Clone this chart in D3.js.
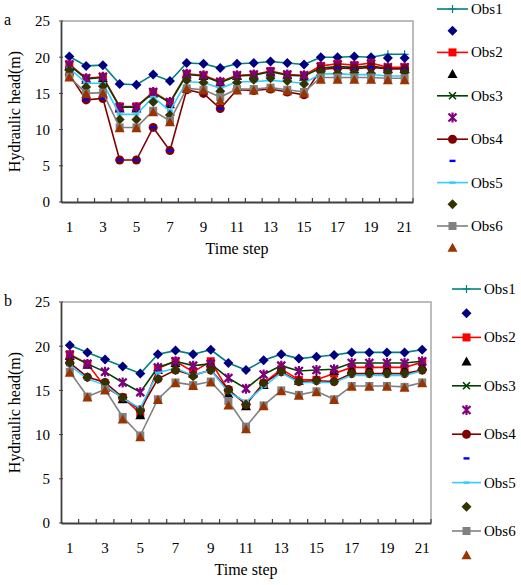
<!DOCTYPE html>
<html>
<head>
<meta charset="utf-8">
<script src="https://cdn.jsdelivr.net/npm/d3@7"></script>
<style>
  body { margin: 0; background: #fff; }
  svg text { font-family: "Liberation Serif", "Times New Roman", serif; fill: #000; }
</style>
</head>
<body>
<svg id="chart" width="521" height="585"></svg>
<script>
const steps = d3.range(1, 22);
const yTicks = [0, 5, 10, 15, 20, 25];
const xLabels = steps.filter(d => d % 2 === 1);
const seriesNames = ["Obs1", "Obs2", "Obs3", "Obs4", "Obs5", "Obs6"];

// chart a -- observed lines
const a_obs1 = [20.1,18.8,18.9,16.3,16.2,17.6,16.7,19.2,19.1,18.5,19.1,19.2,19.4,19.2,19.0,20.0,20.0,20.1,20.0,20.4,20.4];
const a_obs2 = [19.0,17.1,17.3,13.2,13.2,15.2,13.8,17.7,17.5,16.6,17.5,17.6,18.1,17.6,17.5,18.8,19.1,18.9,19.2,18.6,18.6];
const a_obs3 = [18.9,17.0,17.2,13.1,13.1,15.1,13.7,17.6,17.4,16.5,17.4,17.5,18.0,17.5,17.4,18.5,18.7,18.6,18.8,18.4,18.4];
const a_obs4 = [17.6,14.1,14.3,5.8,5.8,10.3,7.1,15.5,15.0,12.9,15.5,15.4,15.6,15.2,14.8,18.3,18.5,18.4,18.6,18.4,18.4];
const a_obs5 = [18.5,16.4,16.4,12.1,12.1,14.5,12.6,16.6,16.5,15.7,16.6,16.6,16.8,16.6,16.4,17.7,17.7,17.6,17.6,17.4,17.4];
const a_obs6 = [17.3,15.0,15.1,10.3,10.3,12.6,11.2,15.7,15.5,14.5,15.6,15.6,15.8,15.5,15.2,17.2,17.2,17.2,17.2,17.1,17.1];
// chart a -- marker-only series
const a_sim1 = [20.1,18.8,18.9,16.3,16.2,17.6,16.7,19.2,19.1,18.5,19.1,19.2,19.4,19.2,19.0,20.0,20.0,20.1,20.0,19.9,19.9];
const a_sim2 = [18.8,16.9,17.1,12.9,12.9,15.0,13.5,17.6,17.4,16.5,17.4,17.5,17.9,17.5,17.3,18.6,18.9,18.7,19.0,18.4,18.4];
const a_sim3 = [19.0,17.1,17.3,13.1,13.1,15.2,13.8,17.7,17.5,16.6,17.5,17.6,18.0,17.6,17.5,18.7,19.0,18.8,19.1,18.6,18.6];
const a_sim4 = [17.6,14.1,14.3,5.8,5.8,10.3,7.1,15.5,15.0,12.9,15.5,15.4,15.6,15.2,14.8,18.3,18.5,18.4,18.6,18.4,18.4];
const a_sim5 = [18.2,15.9,16.0,11.4,11.4,13.8,12.0,16.8,16.5,15.3,16.5,16.9,17.1,16.7,16.3,18.0,17.8,17.9,17.8,17.9,17.9];
const a_sim6 = [17.2,14.9,15.0,10.2,10.2,12.4,11.0,15.6,15.4,14.0,15.4,15.4,15.7,15.3,15.0,16.9,16.9,16.9,16.9,16.8,16.8];

// chart b -- observed lines
const b_obs1 = [20.1,19.3,18.5,17.7,16.9,19.1,19.5,19.1,19.6,18.1,17.3,18.4,19.1,18.6,18.8,19.0,19.3,19.3,19.3,19.3,19.6];
const b_obs2 = [19.1,18.0,15.4,14.2,12.4,17.5,18.3,17.1,18.3,15.0,13.5,15.8,17.4,16.2,16.2,16.9,17.6,17.6,17.6,17.6,18.2];
const b_obs3 = [19.0,18.0,17.1,15.9,14.8,17.6,18.3,17.8,18.0,16.4,15.2,16.8,17.8,17.2,17.3,17.4,18.1,18.1,18.1,18.1,18.3];
const b_obs4 = [18.1,16.5,15.9,14.2,12.8,16.3,17.3,16.7,17.3,15.1,13.4,15.8,17.1,16.0,16.1,16.0,16.9,16.9,16.9,16.9,17.3];
const b_obs5 = [17.8,16.3,15.6,14.1,13.0,17.0,17.5,16.7,17.3,14.8,13.7,15.4,17.0,15.9,15.9,15.9,16.7,16.7,16.7,16.7,17.2];
const b_obs6 = [17.1,14.3,15.1,12.0,9.9,14.0,15.9,15.6,16.0,13.8,10.9,13.3,15.0,14.5,14.9,14.0,15.5,15.5,15.5,15.4,15.9];
// chart b -- marker-only series
const b_sim1 = [20.1,19.3,18.5,17.7,16.9,19.1,19.5,19.1,19.6,18.1,17.3,18.4,19.1,18.6,18.8,19.0,19.3,19.3,19.3,19.3,19.6];
const b_sim2 = [18.9,17.9,15.3,14.0,12.2,17.3,18.1,16.9,18.1,14.6,13.2,15.6,17.3,16.1,16.3,17.2,17.4,17.4,17.4,17.4,17.8];
const b_sim3 = [19.0,18.0,17.1,15.9,14.8,17.6,18.3,17.8,18.0,16.4,15.2,16.8,17.8,17.2,17.3,17.4,18.1,18.1,18.1,18.1,18.3];
const b_sim4 = [18.1,16.5,15.9,14.2,12.8,16.3,17.3,16.7,17.3,15.1,13.4,15.8,17.1,16.0,16.1,16.0,16.9,16.9,16.9,16.9,17.3];
const b_sim5 = [18.1,16.5,15.9,14.2,12.7,16.3,17.3,16.6,17.3,15.0,13.4,15.8,17.1,16.0,16.1,16.0,16.9,16.9,16.9,16.9,17.3];
const b_sim6 = [17.0,14.2,15.0,11.7,9.7,13.9,15.8,15.5,15.9,13.3,10.6,13.2,14.9,14.4,14.8,13.9,15.4,15.4,15.4,15.3,15.8];

// line style + marker for each Obs, then marker for its companion series
const lineStyles = [
  { color: "#008080", marker: "plus",   mcolor: "#008080" },
  { color: "#ff0000", marker: "square", mcolor: "#ff0000" },
  { color: "#004000", marker: "x",      mcolor: "#004000" },
  { color: "#800000", marker: "circle", mcolor: "#800000" },
  { color: "#33ccff", marker: "dash",   mcolor: "#33ccff" },
  { color: "#808080", marker: "square", mcolor: "#808080" }
];
const simStyles = [
  { marker: "diamond",  color: "#000080" },
  { marker: "triangle", color: "#000000" },
  { marker: "asterisk", color: "#800080" },
  { marker: "dash",     color: "#0000ff" },
  { marker: "diamond",  color: "#333300" },
  { marker: "triangle", color: "#993300" }
];

const svg = d3.select("#chart");

function drawMarker(g, type, color, x, y) {
	if (type === "diamond") {
		g.append("path").attr("d", `M${x},${y-5}L${x+5},${y}L${x},${y+5}L${x-5},${y}Z`).attr("fill", color);
	} else if (type === "square") {
		g.append("rect").attr("x", x - 4).attr("y", y - 4).attr("width", 8).attr("height", 8).attr("fill", color);
	} else if (type === "triangle") {
		g.append("path").attr("d", `M${x},${y-5}L${x+5},${y+4}L${x-5},${y+4}Z`).attr("fill", color);
	} else if (type === "circle") {
		g.append("circle").attr("cx", x).attr("cy", y).attr("r", 4.5).attr("fill", color);
	} else if (type === "dash") {
		g.append("rect").attr("x", x - 3).attr("y", y - 1.2).attr("width", 6).attr("height", 2.4).attr("fill", color);
	} else if (type === "plus") {
		g.append("path").attr("d", `M${x-4},${y}H${x+4}M${x},${y-4}V${y+4}`).attr("stroke", color).attr("stroke-width", 1.2);
	} else if (type === "x") {
		g.append("path").attr("d", `M${x-3.5},${y-3.5}L${x+3.5},${y+3.5}M${x-3.5},${y+3.5}L${x+3.5},${y-3.5}`)
			.attr("stroke", color).attr("stroke-width", 1.6);
	} else if (type === "asterisk") {
		g.append("path").attr("d", `M${x-4},${y-4}L${x+4},${y+4}M${x-4},${y+4}L${x+4},${y-4}M${x},${y-5}V${y+5}`)
			.attr("stroke", color).attr("stroke-width", 2.2);
	}
}

function drawChart(cfg) {
	const { left, right, top, bottom, obs, sims, label, legend } = cfg;
	const g = svg.append("g");

	const x = d3.scaleBand().domain(steps).range([left, right]);
	const y = d3.scaleLinear().domain([0, 25]).range([bottom, top]);
	const cx = d => x(d) + x.bandwidth() / 2;

	// frame
	g.append("path").attr("d", `M${left},${top}H${right}V${bottom}`)
		.attr("fill", "none").attr("stroke", "#a6a6a6").attr("stroke-width", 1.5);

	// y axis
	const yAxis = g.append("g").attr("transform", `translate(${left},0)`)
		.call(d3.axisLeft(y).tickValues(yTicks).tickSize(0).tickPadding(11));
	yAxis.select(".domain").attr("stroke", "#404040").attr("stroke-width", 1.8);
	yAxis.selectAll("text").attr("font-size", 15).attr("font-family", "Liberation Serif");
	g.selectAll(".ytick").data(yTicks).join("line")
		.attr("x1", left - 2).attr("x2", left + 2)
		.attr("y1", d => y(d)).attr("y2", d => y(d))
		.attr("stroke", "#404040");

	// x axis: labels on odd steps, tick marks between categories
	const xAxis = g.append("g").attr("transform", `translate(0,${bottom})`)
		.call(d3.axisBottom(x).tickValues(xLabels).tickSize(0).tickPadding(19));
	xAxis.select(".domain").attr("stroke", "#404040").attr("stroke-width", 1.8);
	xAxis.selectAll("text").attr("font-size", 15).attr("font-family", "Liberation Serif");
	g.selectAll(".xtick").data(steps.slice(1).concat([null])).join("line")
		.attr("x1", d => d === null ? right : x(d)).attr("x2", d => d === null ? right : x(d))
		.attr("y1", bottom).attr("y2", bottom - 4)
		.attr("stroke", "#404040").attr("stroke-width", 1.2);

	// titles
	g.append("text").attr("x", (left + right) / 2).attr("y", bottom + 52)
		.attr("text-anchor", "middle").attr("font-size", 16).text("Time step");
	g.append("text").attr("transform", `translate(20,${(top + bottom) / 2}) rotate(-90)`)
		.attr("text-anchor", "middle").attr("font-size", 16).text("Hydraulic head(m)");
	g.append("text").attr("x", 4).attr("y", top + 4).attr("font-size", 16).text(label);

	// series
	const line = d3.line().x((d, i) => cx(steps[i])).y(d => y(d));
	obs.forEach((vals, k) => {
		const st = lineStyles[k];
		g.append("path").attr("d", line(vals)).attr("fill", "none")
			.attr("stroke", st.color).attr("stroke-width", 1.6);
		vals.forEach((v, i) => drawMarker(g, st.marker, st.mcolor, cx(steps[i]), y(v)));
		const sm = simStyles[k];
		sims[k].forEach((v, i) => drawMarker(g, sm.marker, sm.color, cx(steps[i]), y(v)));
	});

	// legend
	const lg = g.append("g");
	seriesNames.forEach((name, k) => {
		const y1 = legend.y0 + legend.dy * 2 * k;
		const y2 = y1 + legend.dy;
		const st = lineStyles[k];
		lg.append("line").attr("x1", legend.x).attr("x2", legend.x + legend.w)
			.attr("y1", y1).attr("y2", y1).attr("stroke", st.color).attr("stroke-width", 1.6);
		drawMarker(lg, st.marker, st.mcolor, legend.x + legend.w / 2, y1);
		lg.append("text").attr("x", legend.x + legend.w + 3).attr("y", y1 + 5)
			.attr("font-size", 15).text(name);
		drawMarker(lg, simStyles[k].marker, simStyles[k].color, legend.x + legend.w / 2, y2);
	});
}

drawChart({
	left: 61, right: 413, top: 21, bottom: 202, label: "a",
	obs: [a_obs1, a_obs2, a_obs3, a_obs4, a_obs5, a_obs6],
	sims: [a_sim1, a_sim2, a_sim3, a_sim4, a_sim5, a_sim6],
	legend: { x: 437, w: 31, y0: 9, dy: 21.7 }
});

drawChart({
	left: 61, right: 431, top: 302, bottom: 523, label: "b",
	obs: [b_obs1, b_obs2, b_obs3, b_obs4, b_obs5, b_obs6],
	sims: [b_sim1, b_sim2, b_sim3, b_sim4, b_sim5, b_sim6],
	legend: { x: 452, w: 29, y0: 289, dy: 24.2 }
});
</script>
</body>
</html>
